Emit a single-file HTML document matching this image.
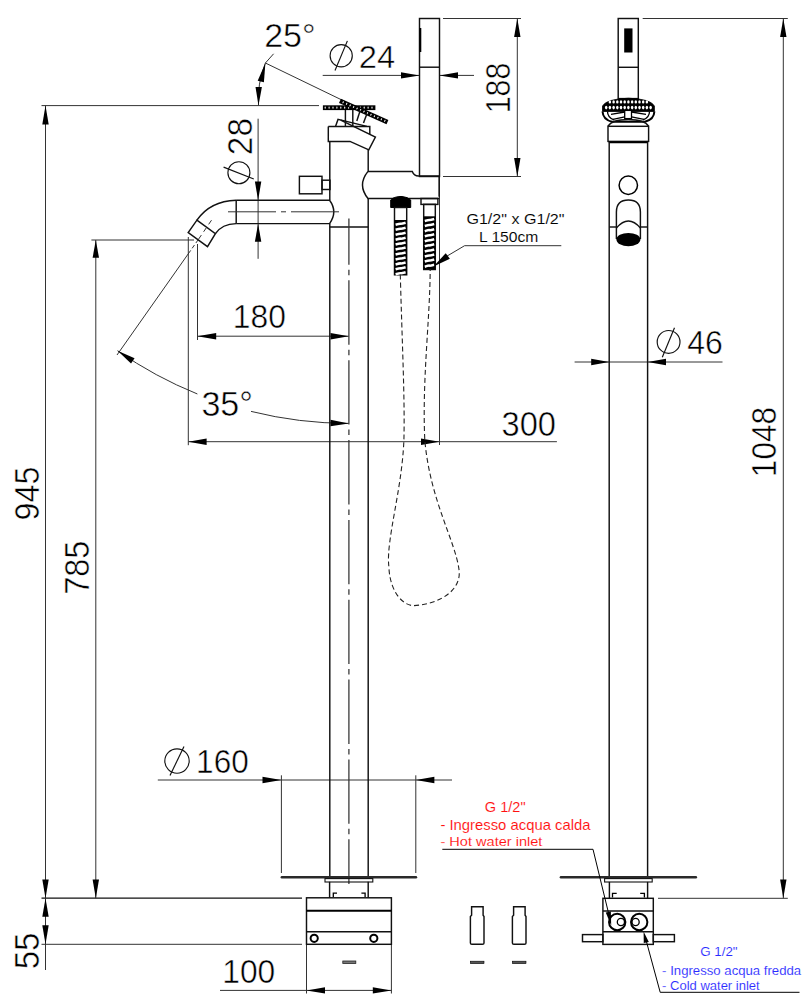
<!DOCTYPE html>
<html><head><meta charset="utf-8"><style>
html,body{margin:0;padding:0;background:#fff;width:810px;height:1000px;overflow:hidden}
svg{display:block}
text{font-family:"Liberation Sans",sans-serif}
</style></head><body>
<svg width="810" height="1000" viewBox="0 0 810 1000">
<rect width="810" height="1000" fill="#fff"/>
<line x1="41.5" y1="105.6" x2="319" y2="105.6" stroke="#333" stroke-width="1" fill="none"/>
<line x1="41.5" y1="898.2" x2="302" y2="898.2" stroke="#111" stroke-width="1.3"/>
<line x1="45.5" y1="105.6" x2="45.5" y2="970" stroke="#333" stroke-width="1" fill="none"/>
<polygon points="45.50,105.60 48.70,124.40 42.30,124.40" fill="#000"/>
<polygon points="45.50,898.20 42.30,879.60 48.70,879.60" fill="#000"/>
<text transform="translate(39.00,520.51) rotate(-90) scale(0.3229,0.3488)" font-size="100" fill="#000" stroke="#fff" stroke-width="1.49" >945</text>
<line x1="41.5" y1="944.3" x2="302" y2="944.3" stroke="#333" stroke-width="1" fill="none"/>
<polygon points="45.50,898.20 48.70,916.70 42.30,916.70" fill="#000"/>
<polygon points="45.50,944.30 42.30,925.30 48.70,925.30" fill="#000"/>
<text transform="translate(39.00,969.32) rotate(-90) scale(0.3300,0.3488)" font-size="100" fill="#000" stroke="#fff" stroke-width="1.47" >55</text>
<line x1="91.4" y1="240" x2="194" y2="240" stroke="#333" stroke-width="1" fill="none"/>
<line x1="95.8" y1="240" x2="95.8" y2="898.2" stroke="#333" stroke-width="1" fill="none"/>
<polygon points="95.80,240.00 99.00,257.80 92.60,257.80" fill="#000"/>
<polygon points="95.80,898.20 92.60,879.60 99.00,879.60" fill="#000"/>
<text transform="translate(89.00,594.66) rotate(-90) scale(0.3238,0.3488)" font-size="100" fill="#000" stroke="#fff" stroke-width="1.49" >785</text>
<line x1="265.4" y1="63" x2="345" y2="101.5" stroke="#333" stroke-width="1" fill="none"/>
<line x1="265.4" y1="63" x2="273.6" y2="53.8" stroke="#333" stroke-width="1" fill="none"/>
<path d="M265.4,63 Q257,84 258.5,105.6" stroke="#333" stroke-width="1" fill="none"/>
<polygon points="265.40,63.00 263.91,82.27 257.69,80.73" fill="#000"/>
<polygon points="258.50,105.60 255.50,86.97 261.90,87.03" fill="#000"/>
<text transform="translate(264.19,46.50) scale(0.3403,0.3329)" font-size="100" fill="#000" stroke="#fff" stroke-width="1.49" >25°</text>
<line x1="322.7" y1="75.4" x2="419.5" y2="75.4" stroke="#333" stroke-width="1" fill="none"/>
<polygon points="419.50,75.40 401.00,78.60 401.00,72.20" fill="#000"/>
<line x1="439.5" y1="75.4" x2="474" y2="75.4" stroke="#333" stroke-width="1" fill="none"/>
<polygon points="439.50,75.40 458.00,72.20 458.00,78.60" fill="#000"/>
<circle cx="341.2" cy="55.7" r="11.1" stroke="#111" stroke-width="1.15" fill="none"/>
<line x1="335" y1="70.5" x2="347.4" y2="40.9" stroke="#111" stroke-width="1.15" fill="none"/>
<text transform="translate(358.85,68.00) scale(0.3273,0.3227)" font-size="100" fill="#000" stroke="#fff" stroke-width="1.54" >24</text>
<line x1="443" y1="18.5" x2="521" y2="18.5" stroke="#333" stroke-width="1" fill="none"/>
<line x1="443" y1="176.5" x2="521" y2="176.5" stroke="#333" stroke-width="1" fill="none"/>
<line x1="517.3" y1="18.5" x2="517.3" y2="176.5" stroke="#333" stroke-width="1" fill="none"/>
<polygon points="517.30,18.50 520.50,37.00 514.10,37.00" fill="#000"/>
<polygon points="517.30,176.50 514.10,158.00 520.50,158.00" fill="#000"/>
<text transform="translate(509.50,113.31) rotate(-90) scale(0.3035,0.3416)" font-size="100" fill="#000" stroke="#fff" stroke-width="1.55" >188</text>
<line x1="258.1" y1="118.7" x2="258.1" y2="258.8" stroke="#333" stroke-width="1" fill="none"/>
<polygon points="258.10,200.20 254.90,181.50 261.30,181.50" fill="#000"/>
<polygon points="258.10,223.70 261.30,241.80 254.90,241.80" fill="#000"/>
<text transform="translate(251.60,155.18) rotate(-90) scale(0.3338,0.3459)" font-size="100" fill="#000" stroke="#fff" stroke-width="1.47" >28</text>
<circle cx="238.9" cy="172.7" r="11" stroke="#111" stroke-width="1.15" fill="none"/>
<line x1="223.6" y1="167.1" x2="253.8" y2="179" stroke="#111" stroke-width="1.15" fill="none"/>
<line x1="197.5" y1="244" x2="197.5" y2="340" stroke="#333" stroke-width="1" fill="none"/>
<line x1="197.3" y1="336.2" x2="348.8" y2="336.2" stroke="#333" stroke-width="1" fill="none"/>
<polygon points="197.30,336.20 216.20,333.00 216.20,339.40" fill="#000"/>
<polygon points="348.80,336.20 330.50,339.40 330.50,333.00" fill="#000"/>
<text transform="translate(232.78,328.30) scale(0.3180,0.3314)" font-size="100" fill="#000" stroke="#fff" stroke-width="1.54" >180</text>
<line x1="190.6" y1="250.5" x2="117" y2="355" stroke="#333" stroke-width="1" fill="none"/>
<line x1="198.2" y1="239.7" x2="190.6" y2="250.5" stroke="#333" stroke-width="1" stroke-dasharray="4,2.5"/>
<path d="M117.54,350.71 A404.2,404.2 0 0 0 197.38,393.97" stroke="#333" stroke-width="1" fill="none"/>
<path d="M251.02,411.39 A404.2,404.2 0 0 0 348.80,423.40" stroke="#333" stroke-width="1" fill="none"/>
<polygon points="117.54,350.71 134.59,358.19 131.04,363.52" fill="#000"/>
<polygon points="348.80,423.40 330.39,426.18 330.54,419.78" fill="#000"/>
<text transform="translate(201.40,415.70) scale(0.3409,0.3416)" font-size="100" fill="#000" stroke="#fff" stroke-width="1.47" >35°</text>
<line x1="188.3" y1="237" x2="188.3" y2="445.2" stroke="#333" stroke-width="1" fill="none"/>
<line x1="439.5" y1="176.5" x2="439.5" y2="445" stroke="#333" stroke-width="1" fill="none"/>
<line x1="188.3" y1="441.7" x2="556.9" y2="441.7" stroke="#333" stroke-width="1" fill="none"/>
<polygon points="188.30,441.70 206.60,438.50 206.60,444.90" fill="#000"/>
<polygon points="439.50,441.70 421.00,444.90 421.00,438.50" fill="#000"/>
<text transform="translate(501.56,435.60) scale(0.3261,0.3459)" font-size="100" fill="#000" stroke="#fff" stroke-width="1.49" >300</text>
<line x1="157.8" y1="780" x2="452" y2="780" stroke="#333" stroke-width="1" fill="none"/>
<polygon points="281.40,780.00 262.50,783.20 262.50,776.80" fill="#000"/>
<polygon points="415.80,780.00 434.40,776.80 434.40,783.20" fill="#000"/>
<line x1="281.4" y1="775.3" x2="281.4" y2="873" stroke="#333" stroke-width="1" fill="none"/>
<line x1="415.8" y1="775.3" x2="415.8" y2="873" stroke="#333" stroke-width="1" fill="none"/>
<circle cx="177" cy="761" r="12.2" stroke="#111" stroke-width="1.15" fill="none"/>
<line x1="170" y1="775.5" x2="184" y2="746.5" stroke="#111" stroke-width="1.15" fill="none"/>
<text transform="translate(196.10,772.50) scale(0.3155,0.3329)" font-size="100" fill="#000" stroke="#fff" stroke-width="1.54" >160</text>
<line x1="306.5" y1="945" x2="306.5" y2="993.5" stroke="#333" stroke-width="1" fill="none"/>
<line x1="391.4" y1="945" x2="391.4" y2="993.5" stroke="#333" stroke-width="1" fill="none"/>
<line x1="220" y1="990.4" x2="391.4" y2="990.4" stroke="#333" stroke-width="1" fill="none"/>
<polygon points="306.50,990.40 325.00,987.20 325.00,993.60" fill="#000"/>
<polygon points="391.40,990.40 372.80,993.60 372.80,987.20" fill="#000"/>
<text transform="translate(222.28,982.70) scale(0.3174,0.3358)" font-size="100" fill="#000" stroke="#fff" stroke-width="1.53" >100</text>
<rect x="419.5" y="18.5" width="20.00" height="158.00" stroke="#111" stroke-width="1.45" fill="none"/>
<line x1="419.5" y1="67.2" x2="439.5" y2="67.2" stroke="#111" stroke-width="1.45" fill="none"/>
<line x1="420.3" y1="28" x2="420.3" y2="52" stroke="#000" stroke-width="2"/>
<line x1="329.8" y1="141.4" x2="329.8" y2="200" stroke="#111" stroke-width="1.45" fill="none"/>
<line x1="329.8" y1="223.6" x2="329.8" y2="877" stroke="#111" stroke-width="1.45" fill="none"/>
<line x1="368.2" y1="149.8" x2="368.2" y2="171.4" stroke="#111" stroke-width="1.45" fill="none"/>
<line x1="368.2" y1="198.5" x2="368.2" y2="877" stroke="#111" stroke-width="1.45" fill="none"/>
<line x1="329.8" y1="227" x2="368.2" y2="227" stroke="#111" stroke-width="1.45" fill="none"/>
<line x1="348.9" y1="218.6" x2="348.9" y2="884" stroke="#333" stroke-width="1.25" stroke-dasharray="64.35,5,5.5,5" stroke-dashoffset="18.1"/>
<path d="M236.2,200.2 L329.6,200.2 Q338,211.8 329.6,223.6 L236.2,223.6" stroke="#111" stroke-width="1.45" fill="none"/>
<line x1="236.2" y1="200.2" x2="236.2" y2="223.6" stroke="#111" stroke-width="1.45" fill="none"/>
<path d="M236.2,200.2 Q210,201 196.9,220.2" stroke="#111" stroke-width="1.45" fill="none"/>
<path d="M236.2,223.6 Q222,224 215.4,233.6" stroke="#111" stroke-width="1.45" fill="none"/>
<polygon points="196.90,220.20 215.40,233.60 207.50,246.60 188.20,232.50" stroke="#111" stroke-width="1.45" fill="none"/>
<line x1="228" y1="211.8" x2="341.5" y2="211.8" stroke="#333" stroke-width="1" stroke-dasharray="48,5,5,5"/>
<line x1="211.5" y1="220.2" x2="198.2" y2="239.7" stroke="#333" stroke-width="1" stroke-dasharray="5,4"/>
<rect x="299.4" y="176.3" width="22.60" height="17.50" stroke="#111" stroke-width="1.45" fill="none"/>
<rect x="322" y="180.2" width="8.00" height="9.30" stroke="#111" stroke-width="1.45" fill="none"/>
<path d="M368,171.4 L412.3,171.4 Q414,176 418.5,176 L439.1,176 L439.1,196.8" stroke="#111" stroke-width="1.45" fill="none"/>
<path d="M368,171.4 Q357,185 368,198.5 L439.1,198.5" stroke="#111" stroke-width="1.45" fill="none"/>
<path d="M390.7,207.5 L390.7,200 Q393,197 400,196.5 L402,196.5 Q408,197 410.7,200 L410.7,207.5 Z" fill="#000" stroke="#000" stroke-width="1"/>
<rect x="421" y="198.5" width="16.90" height="5.90" stroke="#111" stroke-width="1.45" fill="none"/>
<rect x="394.5" y="207.5" width="12.20" height="67.30" stroke="#111" stroke-width="1.45" fill="none"/>
<rect x="423.7" y="204.4" width="11.60" height="65.10" stroke="#111" stroke-width="1.45" fill="none"/>
<rect x="394.4" y="220" width="12.4" height="54.8" fill="#000"/>
<path d="M395.6,224.80 Q400,223.60 400.6,223.80 T405.6,222.80" stroke="#fff" stroke-width="2.6" fill="none"/>
<path d="M395.6,229.75 Q400,228.55 400.6,228.75 T405.6,227.75" stroke="#fff" stroke-width="2.6" fill="none"/>
<path d="M395.6,234.70 Q400,233.50 400.6,233.70 T405.6,232.70" stroke="#fff" stroke-width="2.6" fill="none"/>
<path d="M395.6,239.65 Q400,238.45 400.6,238.65 T405.6,237.65" stroke="#fff" stroke-width="2.6" fill="none"/>
<path d="M395.6,244.60 Q400,243.40 400.6,243.60 T405.6,242.60" stroke="#fff" stroke-width="2.6" fill="none"/>
<path d="M395.6,249.55 Q400,248.35 400.6,248.55 T405.6,247.55" stroke="#fff" stroke-width="2.6" fill="none"/>
<path d="M395.6,254.50 Q400,253.30 400.6,253.50 T405.6,252.50" stroke="#fff" stroke-width="2.6" fill="none"/>
<path d="M395.6,259.45 Q400,258.25 400.6,258.45 T405.6,257.45" stroke="#fff" stroke-width="2.6" fill="none"/>
<path d="M395.6,264.40 Q400,263.20 400.6,263.40 T405.6,262.40" stroke="#fff" stroke-width="2.6" fill="none"/>
<path d="M395.6,269.35 Q400,268.15 400.6,268.35 T405.6,267.35" stroke="#fff" stroke-width="2.6" fill="none"/>
<path d="M395.6,274.30 Q400,273.10 400.6,273.30 T405.6,272.30" stroke="#fff" stroke-width="2.6" fill="none"/>
<rect x="423.6" y="216.3" width="11.7" height="53.2" fill="#000"/>
<path d="M424.8,221.00 Q429,219.80 429.5,220.00 T434.2,219.00" stroke="#fff" stroke-width="2.6" fill="none"/>
<path d="M424.8,226.07 Q429,224.87 429.5,225.07 T434.2,224.07" stroke="#fff" stroke-width="2.6" fill="none"/>
<path d="M424.8,231.14 Q429,229.94 429.5,230.14 T434.2,229.14" stroke="#fff" stroke-width="2.6" fill="none"/>
<path d="M424.8,236.21 Q429,235.01 429.5,235.21 T434.2,234.21" stroke="#fff" stroke-width="2.6" fill="none"/>
<path d="M424.8,241.28 Q429,240.08 429.5,240.28 T434.2,239.28" stroke="#fff" stroke-width="2.6" fill="none"/>
<path d="M424.8,246.35 Q429,245.15 429.5,245.35 T434.2,244.35" stroke="#fff" stroke-width="2.6" fill="none"/>
<path d="M424.8,251.42 Q429,250.22 429.5,250.42 T434.2,249.42" stroke="#fff" stroke-width="2.6" fill="none"/>
<path d="M424.8,256.49 Q429,255.29 429.5,255.49 T434.2,254.49" stroke="#fff" stroke-width="2.6" fill="none"/>
<path d="M424.8,261.56 Q429,260.36 429.5,260.56 T434.2,259.56" stroke="#fff" stroke-width="2.6" fill="none"/>
<path d="M424.8,266.63 Q429,265.43 429.5,265.63 T434.2,264.63" stroke="#fff" stroke-width="2.6" fill="none"/>
<path d="M400.3,274.4 C402,340 405,400 403.9,440 C402,490 386,540 388.8,566 C390,595 405,606 414,605.6 C440,604 462,590 459,569.6 C455,540 430,500 424.8,440 C422,380 430,320 430.2,269" stroke="#222" stroke-width="1.1" fill="none" stroke-dasharray="5,3"/>
<line x1="464.6" y1="245.7" x2="561.3" y2="245.7" stroke="#333" stroke-width="1" fill="none"/>
<line x1="464.6" y1="245.7" x2="446" y2="256.7" stroke="#333" stroke-width="1" fill="none"/>
<polygon points="433.50,266.50 445.73,253.18 449.87,258.82" fill="#000"/>
<text transform="translate(466.39,223.70) scale(0.1609,0.1424)" font-size="100" fill="#000" stroke="#fff" stroke-width="0.66" >G1/2" x G1/2"</text>
<text transform="translate(478.91,242.40) scale(0.1567,0.1395)" font-size="100" fill="#000" stroke="#fff" stroke-width="0.68" >L 150cm</text>
<rect x="322.9" y="105.3" width="52.5" height="4.8" fill="#000"/>
<ellipse cx="325.2" cy="107.7" rx="0.6" ry="1.15" fill="#fff"/>
<ellipse cx="329.1" cy="107.7" rx="0.6" ry="1.15" fill="#fff"/>
<ellipse cx="333.0" cy="107.7" rx="0.6" ry="1.15" fill="#fff"/>
<ellipse cx="336.9" cy="107.7" rx="0.6" ry="1.15" fill="#fff"/>
<ellipse cx="340.8" cy="107.7" rx="0.6" ry="1.15" fill="#fff"/>
<ellipse cx="344.7" cy="107.7" rx="0.6" ry="1.15" fill="#fff"/>
<ellipse cx="348.6" cy="107.7" rx="0.6" ry="1.15" fill="#fff"/>
<ellipse cx="352.5" cy="107.7" rx="0.6" ry="1.15" fill="#fff"/>
<ellipse cx="356.4" cy="107.7" rx="0.6" ry="1.15" fill="#fff"/>
<ellipse cx="360.3" cy="107.7" rx="0.6" ry="1.15" fill="#fff"/>
<ellipse cx="364.2" cy="107.7" rx="0.6" ry="1.15" fill="#fff"/>
<ellipse cx="368.1" cy="107.7" rx="0.6" ry="1.15" fill="#fff"/>
<ellipse cx="372.0" cy="107.7" rx="0.6" ry="1.15" fill="#fff"/>
<g transform="translate(340.9,98.8) rotate(24)"><rect x="0" y="0" width="52" height="4.6" fill="#000"/><ellipse cx="3.5" cy="2.3" rx="0.6" ry="1.1" fill="#fff"/><ellipse cx="7.3" cy="2.3" rx="0.6" ry="1.1" fill="#fff"/><ellipse cx="11.1" cy="2.3" rx="0.6" ry="1.1" fill="#fff"/><ellipse cx="14.9" cy="2.3" rx="0.6" ry="1.1" fill="#fff"/><ellipse cx="18.7" cy="2.3" rx="0.6" ry="1.1" fill="#fff"/><ellipse cx="22.5" cy="2.3" rx="0.6" ry="1.1" fill="#fff"/><ellipse cx="26.3" cy="2.3" rx="0.6" ry="1.1" fill="#fff"/><ellipse cx="30.1" cy="2.3" rx="0.6" ry="1.1" fill="#fff"/><ellipse cx="33.9" cy="2.3" rx="0.6" ry="1.1" fill="#fff"/><ellipse cx="37.7" cy="2.3" rx="0.6" ry="1.1" fill="#fff"/><ellipse cx="41.5" cy="2.3" rx="0.6" ry="1.1" fill="#fff"/><ellipse cx="45.3" cy="2.3" rx="0.6" ry="1.1" fill="#fff"/><ellipse cx="49.1" cy="2.3" rx="0.6" ry="1.1" fill="#fff"/></g>
<line x1="345.4" y1="110" x2="345.4" y2="126" stroke="#111" stroke-width="1.45" fill="none"/>
<line x1="352.8" y1="110" x2="352.8" y2="126" stroke="#111" stroke-width="1.45" fill="none"/>
<line x1="360.2" y1="110.5" x2="356.8" y2="121" stroke="#111" stroke-width="1.45" fill="none"/>
<line x1="367" y1="113.5" x2="363.5" y2="123" stroke="#111" stroke-width="1.45" fill="none"/>
<polyline points="335.50,126.40 338.00,119.40 366.90,126.40" stroke="#111" stroke-width="1.45" fill="none"/>
<path d="M328.3,126.4 L369.8,126.4 L369.8,134" stroke="#111" stroke-width="1.45" fill="none"/>
<path d="M328.3,126.4 L328.3,141.4 L350,141.4 L368.8,149.8 L375.4,137 L340.7,120.2" stroke="#111" stroke-width="1.45" fill="none"/>
<line x1="281.8" y1="877.2" x2="416" y2="877.2" stroke="#2a2a2a" stroke-width="2.4" stroke-linecap="round"/>
<rect x="325" y="878.6" width="47.80" height="3.40" stroke="#111" stroke-width="1.1" fill="none"/>
<line x1="329.6" y1="881.8" x2="329.6" y2="897.8" stroke="#111" stroke-width="1.45" fill="none"/>
<line x1="368.2" y1="881.8" x2="368.2" y2="897.8" stroke="#111" stroke-width="1.45" fill="none"/>
<polyline points="333.30,897.00 333.30,893.20 337.00,893.20" stroke="#000" stroke-width="1.3" fill="none"/>
<polyline points="365.10,897.00 365.10,893.20 361.40,893.20" stroke="#000" stroke-width="1.3" fill="none"/>
<rect x="306.5" y="897.8" width="84.90" height="46.50" stroke="#111" stroke-width="1.45" fill="none"/>
<line x1="306.5" y1="910.8" x2="391.4" y2="910.8" stroke="#000" stroke-width="2"/>
<line x1="306.5" y1="931.8" x2="391.4" y2="931.8" stroke="#111" stroke-width="1.45" fill="none"/>
<circle cx="314.2" cy="938.3" r="3.6" stroke="#000" stroke-width="2" fill="none"/>
<circle cx="373.8" cy="938.3" r="3.6" stroke="#000" stroke-width="2" fill="none"/>
<rect x="342.8" y="961" width="13" height="2.4" fill="#777" stroke="#222" stroke-width="0.8"/>
<path d="M471.6,915.3 L471.6,906.7 L483.1,906.7 L483.1,915.3 L484,916.5 L484,943 Q484,944.3 482.5,944.3 L471.9,944.3 Q470.4,944.3 470.4,943 L470.4,916.5 Z" stroke="#111" stroke-width="1.45" fill="none"/>
<rect x="470.4" y="961.2" width="13.6" height="2.4" fill="#555" stroke="#000" stroke-width="0.6"/>
<path d="M513.6,915.3 L513.6,906.7 L525.1,906.7 L525.1,915.3 L526,916.5 L526,943 Q526,944.3 524.5,944.3 L513.9,944.3 Q512.4,944.3 512.4,943 L512.4,916.5 Z" stroke="#111" stroke-width="1.45" fill="none"/>
<rect x="512.4" y="961.2" width="13.6" height="2.4" fill="#555" stroke="#000" stroke-width="0.6"/>
<line x1="642.7" y1="18.5" x2="787.8" y2="18.5" stroke="#333" stroke-width="1" fill="none"/>
<line x1="658" y1="898.3" x2="787.8" y2="898.3" stroke="#333" stroke-width="1" fill="none"/>
<line x1="783.3" y1="18.5" x2="783.3" y2="898.3" stroke="#333" stroke-width="1" fill="none"/>
<polygon points="783.30,18.50 786.50,37.00 780.10,37.00" fill="#000"/>
<polygon points="783.30,898.30 780.10,879.60 786.50,879.60" fill="#000"/>
<text transform="translate(776.40,477.21) rotate(-90) scale(0.3164,0.3488)" font-size="100" fill="#000" stroke="#fff" stroke-width="1.50" >1048</text>
<line x1="574.6" y1="362" x2="722.5" y2="362" stroke="#333" stroke-width="1" fill="none"/>
<polygon points="609.20,362.00 591.20,365.20 591.20,358.80" fill="#000"/>
<polygon points="647.60,362.00 666.00,358.80 666.00,365.20" fill="#000"/>
<circle cx="668.6" cy="341.9" r="11.4" stroke="#111" stroke-width="1.15" fill="none"/>
<line x1="662.3" y1="357.2" x2="674.5" y2="327.7" stroke="#111" stroke-width="1.15" fill="none"/>
<text transform="translate(687.16,354.40) scale(0.3204,0.3299)" font-size="100" fill="#000" stroke="#fff" stroke-width="1.54" >46</text>
<rect x="618.2" y="18.5" width="20.10" height="80.10" stroke="#111" stroke-width="1.45" fill="none"/>
<rect x="624.2" y="28.4" width="8.3" height="24.1" fill="#000"/>
<line x1="618.2" y1="67.3" x2="638.3" y2="67.3" stroke="#111" stroke-width="1.45" fill="none"/>
<path d="M602.5,111.5 Q603,119.5 612,121.8 L645,121.8 Q654,119.5 654.4,111.5" stroke="#000" stroke-width="2" fill="#fff"/>
<path d="M607.5,111.5 Q607.5,117.5 614,119.8 M649.5,111.5 Q649.5,117.5 643,119.8" stroke="#000" stroke-width="1.3" fill="none"/>
<path d="M624.7,112 L611,114.3 M624.7,116.8 L613,119.3 M631.5,112 L646,114.3 M631.5,116.8 L644,119.3" stroke="#000" stroke-width="1.3" fill="none"/>
<path d="M602.5,111.5 L602.5,106 Q606,99 628.5,98.2 Q651,99 654.4,106 L654.4,111.5 Z" fill="#000" stroke="#000" stroke-width="0.8"/>
<ellipse cx="609.9" cy="101.9" rx="1.25" ry="1.6" fill="#fff"/>
<ellipse cx="613.6" cy="101.9" rx="1.25" ry="1.6" fill="#fff"/>
<ellipse cx="617.3" cy="101.9" rx="1.25" ry="1.6" fill="#fff"/>
<ellipse cx="621.0" cy="101.9" rx="1.25" ry="1.6" fill="#fff"/>
<ellipse cx="624.7" cy="101.9" rx="1.25" ry="1.6" fill="#fff"/>
<ellipse cx="628.4" cy="101.9" rx="1.25" ry="1.6" fill="#fff"/>
<ellipse cx="632.1" cy="101.9" rx="1.25" ry="1.6" fill="#fff"/>
<ellipse cx="635.8" cy="101.9" rx="1.25" ry="1.6" fill="#fff"/>
<ellipse cx="639.5" cy="101.9" rx="1.25" ry="1.6" fill="#fff"/>
<ellipse cx="643.2" cy="101.9" rx="1.25" ry="1.6" fill="#fff"/>
<ellipse cx="646.9" cy="101.9" rx="1.25" ry="1.6" fill="#fff"/>
<ellipse cx="606.2" cy="107.6" rx="1.25" ry="1.8" fill="#fff"/>
<ellipse cx="609.9" cy="107.6" rx="1.25" ry="1.8" fill="#fff"/>
<ellipse cx="613.6" cy="107.6" rx="1.25" ry="1.8" fill="#fff"/>
<ellipse cx="617.3" cy="107.6" rx="1.25" ry="1.8" fill="#fff"/>
<ellipse cx="621.0" cy="107.6" rx="1.25" ry="1.8" fill="#fff"/>
<ellipse cx="624.7" cy="107.6" rx="1.25" ry="1.8" fill="#fff"/>
<ellipse cx="628.4" cy="107.6" rx="1.25" ry="1.8" fill="#fff"/>
<ellipse cx="632.1" cy="107.6" rx="1.25" ry="1.8" fill="#fff"/>
<ellipse cx="635.8" cy="107.6" rx="1.25" ry="1.8" fill="#fff"/>
<ellipse cx="639.5" cy="107.6" rx="1.25" ry="1.8" fill="#fff"/>
<ellipse cx="643.2" cy="107.6" rx="1.25" ry="1.8" fill="#fff"/>
<ellipse cx="646.9" cy="107.6" rx="1.25" ry="1.8" fill="#fff"/>
<ellipse cx="650.6" cy="107.6" rx="1.25" ry="1.8" fill="#fff"/>
<rect x="624.7" y="110.4" width="6.80" height="8.20" fill="#fff" stroke="#000" stroke-width="1.3"/>
<path d="M608,126.3 Q612,119.5 628.3,119.5 Q644.6,119.5 648.6,126.3" stroke="#111" stroke-width="1.45" fill="none"/>
<rect x="608" y="126.3" width="40.60" height="15.10" stroke="#111" stroke-width="1.45" fill="none"/>
<line x1="608.8" y1="142.3" x2="647.9" y2="142.3" stroke="#000" stroke-width="2"/>
<line x1="609.2" y1="141.4" x2="609.2" y2="877" stroke="#111" stroke-width="1.45" fill="none"/>
<line x1="647.6" y1="141.4" x2="647.6" y2="877" stroke="#111" stroke-width="1.45" fill="none"/>
<circle cx="628.3" cy="185.2" r="9.2" stroke="#000" stroke-width="1.5" fill="none"/>
<path d="M616.4,239 L616.4,212 Q616.4,200 628.4,200 Q640.4,200 640.4,212 L640.4,239" stroke="#111" stroke-width="1.45" fill="none"/>
<path d="M616.4,228 Q628.4,214 640.4,228" stroke="#111" stroke-width="1.45" fill="none"/>
<line x1="609.2" y1="227" x2="616.4" y2="227" stroke="#111" stroke-width="1.45" fill="none"/>
<line x1="640.4" y1="227" x2="647.6" y2="227" stroke="#111" stroke-width="1.45" fill="none"/>
<ellipse cx="628.4" cy="239.6" rx="12" ry="6.7" fill="#000"/>
<line x1="560.9" y1="877.3" x2="695.9" y2="877.3" stroke="#2a2a2a" stroke-width="2.4" stroke-linecap="round"/>
<rect x="604.6" y="878.6" width="47.60" height="3.40" stroke="#111" stroke-width="1.1" fill="none"/>
<line x1="609.4" y1="881.9" x2="609.4" y2="898.3" stroke="#111" stroke-width="1.45" fill="none"/>
<line x1="647.6" y1="881.9" x2="647.6" y2="898.3" stroke="#111" stroke-width="1.45" fill="none"/>
<polyline points="612.50,897.50 612.50,893.40 616.70,893.40" stroke="#000" stroke-width="1.3" fill="none"/>
<polyline points="644.40,897.50 644.40,893.40 640.20,893.40" stroke="#000" stroke-width="1.3" fill="none"/>
<rect x="602.9" y="898.3" width="50.40" height="46.10" stroke="#111" stroke-width="1.45" fill="none"/>
<line x1="602.9" y1="910.9" x2="653.3" y2="910.9" stroke="#111" stroke-width="1.45" fill="none"/>
<line x1="602.9" y1="931.8" x2="653.3" y2="931.8" stroke="#111" stroke-width="1.45" fill="none"/>
<circle cx="617.2" cy="922" r="8.2" stroke="#000" stroke-width="2" fill="none"/>
<circle cx="620.9" cy="922" r="3.6" stroke="#000" stroke-width="1.3" fill="none"/>
<circle cx="639.2" cy="922" r="8.2" stroke="#000" stroke-width="2" fill="none"/>
<circle cx="635.6" cy="922" r="3.6" stroke="#000" stroke-width="1.3" fill="none"/>
<rect x="582.5" y="934.6" width="20.40" height="7.10" stroke="#111" stroke-width="1.45" fill="none"/>
<rect x="653.3" y="934.6" width="21.10" height="7.10" stroke="#111" stroke-width="1.45" fill="none"/>
<text transform="translate(484.87,812.20) scale(0.1455,0.1439)" font-size="100" fill="#ff1010" stroke="#fff" stroke-width="0.69" >G 1/2"</text>
<text transform="translate(440.44,829.50) scale(0.1483,0.1439)" font-size="100" fill="#ff1010" stroke="#fff" stroke-width="0.68" >- Ingresso acqua calda</text>
<text transform="translate(440.45,846.30) scale(0.1456,0.1366)" font-size="100" fill="#ff1010" stroke="#fff" stroke-width="0.71" >- Hot water inlet</text>
<line x1="442.3" y1="849.3" x2="593" y2="849.3" stroke="#000" stroke-width="1"/>
<line x1="593" y1="849.3" x2="609" y2="915" stroke="#000" stroke-width="1"/>
<polygon points="611.20,925.50 605.76,912.55 610.84,911.45" fill="#000"/>
<text transform="translate(700.23,955.60) scale(0.1333,0.1279)" font-size="100" fill="#2a2aff" stroke="#fff" stroke-width="0.77" >G 1/2"</text>
<text transform="translate(662.11,974.50) scale(0.1317,0.1337)" font-size="100" fill="#2a2aff" stroke="#fff" stroke-width="0.75" >- Ingresso acqua fredda</text>
<text transform="translate(662.12,989.80) scale(0.1300,0.1221)" font-size="100" fill="#2a2aff" stroke="#fff" stroke-width="0.79" >- Cold water inlet</text>
<line x1="660.2" y1="992.3" x2="799.5" y2="992.3" stroke="#000" stroke-width="1"/>
<line x1="660.2" y1="992.3" x2="646" y2="940" stroke="#000" stroke-width="1"/>
<polygon points="643.60,931.50 648.83,941.88 643.77,943.12" fill="#000"/>
</svg></body></html>
